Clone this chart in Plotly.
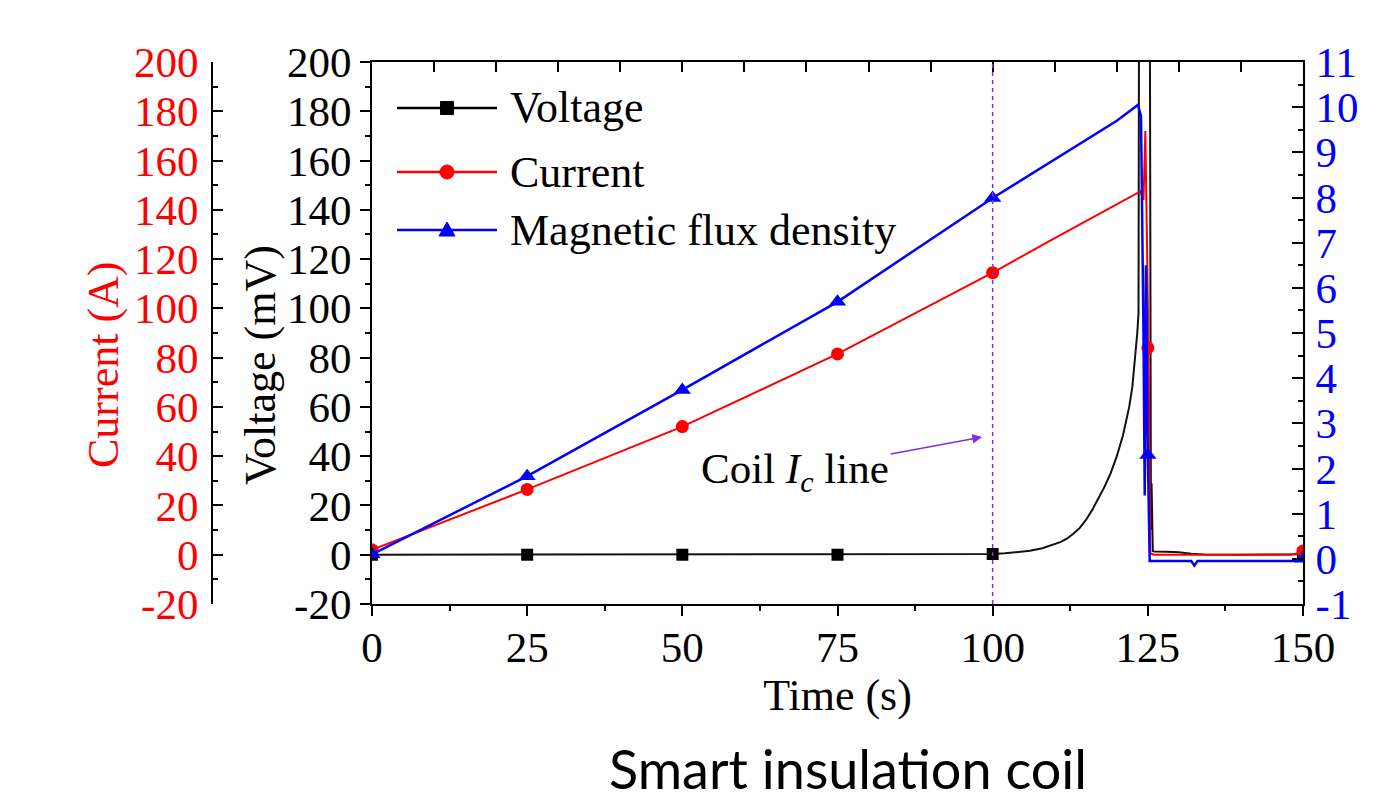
import plotly.graph_objects as go

# ---------------- data ----------------
time_v = [0, 10, 20, 30, 40, 50, 60, 70, 80, 90, 100, 102, 104, 106, 108, 110,
          111, 112, 113, 114, 115, 116, 117, 118, 119, 120, 121, 122, 122.5,
          123, 123.3, 123.5, 123.6, 124.5, 125.3, 125.5, 125.6, 125.8, 126,
          128, 130, 132, 134, 140, 145, 149, 150]
voltage = [0, 0, 0, 0, 0, 0, 0, 0, 0, 0.1, 0.3, 0.6, 1.0, 1.6, 2.6, 4.2,
           5.2, 6.6, 8.5, 10.8, 14, 18, 22.5, 27.5, 33, 40, 48.5, 60, 68,
           80, 90, 98, 250, 250, 250, 10, 29, 1.5, 1.3,
           1.2, 1.0, 0.4, 0.1, 0, 0, 0.2, 1.0]

time_i = [0, 25, 50, 60, 70, 75, 80, 90, 100, 110, 120, 123.8, 124.3, 124.6,
          124.9, 125.1, 125.4, 126, 130, 140, 148, 149, 150]
current = [2, 26.5, 52, 63.8, 75.6, 81.5, 88.1, 101.3, 114.5, 128.5, 142.5,
           147.5, 144, 172, 120, 84, 0.5, 0, 0, 0, 0, 0.5, 2.5]

time_b = [0, 25, 50, 75, 100, 110, 120, 123.4, 123.9, 124.3, 124.5, 124.7,
          125.0, 125.3, 128, 132, 132.5, 133, 140, 149, 150]
flux = [0.1, 1.83, 3.74, 5.69, 7.99, 8.85, 9.7, 10.05, 9.8, 5.0, 1.4, 6.5,
        2.3, -0.05, -0.05, -0.05, -0.15, -0.05, -0.05, -0.05, 0.1]

marker_time = [0, 25, 50, 75, 100, 125, 150]
voltage_marker_time = [0, 25, 50, 75, 100, 150]
voltage_markers = [0, 0, 0, 0, 0.3, 0.5]
current_markers = [2, 26.5, 52, 81.5, 114.5, 84, 1.5]
flux_markers = [0.1, 1.83, 3.74, 5.69, 7.99, 2.3, 0.0]

series_names = ["Voltage", "Current", "Magnetic flux density"]

y_ticks = list(range(-20, 201, 20))
y_ticktext = [str(v) for v in y_ticks]          # plain hyphen minus
x_ticks = [0, 25, 50, 75, 100, 125, 150]
b_ticks = list(range(-1, 12))
b_ticktext = [str(v) for v in b_ticks]

# ---------------- styling ----------------
W, H = 1397, 804
OFF = 8                      # page offset of the figure (body margin)
PLOT_TOP, PLOT_BOT = 62, 604  # page pixel rows of the plot frame


def px(xpage):
    return (xpage - OFF) / W


def py(ypage):
    return (PLOT_BOT - ypage) / (PLOT_BOT - PLOT_TOP)


SERIF = "Liberation Serif"
FS = 43
TFS = 44
BLACK, RED, BLUE, PURPLE = "#000000", "#FF0000", "#0000FF", "#8A2BE2"

fig = go.Figure()

# voltage
fig.add_trace(go.Scatter(x=time_v, y=voltage, mode="lines", xaxis="x", yaxis="y",
                         line=dict(color="#111111", width=2), showlegend=False,
                         hoverinfo="skip"))
fig.add_trace(go.Scatter(x=voltage_marker_time, y=voltage_markers, mode="markers",
                         xaxis="x", yaxis="y", showlegend=False,
                         marker=dict(symbol="square", size=12, color=BLACK)))
# current
fig.add_trace(go.Scatter(x=time_i, y=current, mode="lines", xaxis="x", yaxis="y2",
                         line=dict(color=RED, width=2), showlegend=False,
                         hoverinfo="skip"))
fig.add_trace(go.Scatter(x=marker_time, y=current_markers, mode="markers",
                         xaxis="x", yaxis="y2", showlegend=False,
                         marker=dict(symbol="circle", size=13, color=RED)))
# flux
fig.add_trace(go.Scatter(x=time_b, y=flux, mode="lines", xaxis="x", yaxis="y3",
                         line=dict(color=BLUE, width=2.5), showlegend=False,
                         hoverinfo="skip"))
fig.add_trace(go.Scatter(x=marker_time, y=flux_markers, mode="markers",
                         xaxis="x", yaxis="y3", showlegend=False,
                         marker=dict(symbol="triangle-up", size=15, color=BLUE)))

# top mirror axis carrier
fig.add_trace(go.Scatter(x=[None], y=[None], xaxis="x2", yaxis="y",
                         showlegend=False, hoverinfo="skip"))

axis_common = dict(showgrid=False, zeroline=False, showline=True, linecolor=BLACK,
                   linewidth=2, tickwidth=2, tickcolor=BLACK, automargin=False)

# ---------------- legend (drawn as key glyphs + text) ----------------
legend_rows = [108, 172, 230]
legend_colors = [BLACK, RED, BLUE]
shapes = [dict(type="line", xref="x", yref="paper", x0=100, x1=100, y0=0, y1=1,
               line=dict(color=PURPLE, width=1.5, dash="4px,4px"))]
annotations = []
for name, color, row, kind in zip(series_names, legend_colors, legend_rows,
                                  ["square", "circle", "triangle"]):
    shapes.append(dict(type="line", xref="paper", yref="paper", x0=px(397), x1=px(497),
                       y0=py(row), y1=py(row), line=dict(color=color, width=2.5)))
    common = dict(xref="paper", yref="paper", xsizemode="pixel", ysizemode="pixel",
                  xanchor=px(447), yanchor=py(row), fillcolor=color,
                  line=dict(color=color, width=1))
    if kind == "square":
        shapes.append(dict(type="rect", x0=-6.5, x1=6.5, y0=-6.5, y1=6.5, **common))
    elif kind == "circle":
        shapes.append(dict(type="circle", x0=-7, x1=7, y0=-7, y1=7, **common))
    else:
        shapes.append(dict(type="path", path="M-8,-6 L8,-6 L0,8 Z", **common))
    annotations.append(dict(x=px(508), y=py(row), xref="paper", yref="paper",
                            text=name, showarrow=False, xanchor="left", yanchor="middle",
                            font=dict(family=SERIF, size=44, color=BLACK)))

annotations += [
    # axis titles
    dict(x=px(260), y=py(365), xref="paper", yref="paper", text="Voltage (mV)",
         textangle=-90, showarrow=False, xanchor="center", yanchor="middle",
         font=dict(family=SERIF, size=TFS, color=BLACK)),
    dict(x=px(103), y=py(365), xref="paper", yref="paper", text="Current (A)",
         textangle=-90, showarrow=False, xanchor="center", yanchor="middle",
         font=dict(family=SERIF, size=TFS, color=RED)),
    dict(x=98.3, y=47.8, xref="x", yref="y", ax=68.2, ay=33.6, axref="x", ayref="y",
         text="Coil <i>I</i><sub><i>c</i></sub> line", showarrow=True,
         arrowhead=2, arrowsize=1.3, arrowwidth=1.5, arrowcolor=PURPLE,
         font=dict(family=SERIF, size=FS, color=BLACK)),
    dict(x=px(848), y=py(768), xref="paper", yref="paper",
         text="Smart insulation coil", showarrow=False, xanchor="center",
         yanchor="middle", font=dict(family="Lato", size=54, color=BLACK)),
]

fig.update_layout(
    width=W, height=H,
    margin=dict(l=0, r=0, t=PLOT_TOP - OFF, b=H - (PLOT_BOT - OFF)),
    plot_bgcolor="white", paper_bgcolor="white",
    showlegend=False,
    xaxis=dict(domain=[px(372), px(1303)], range=[0, 150], tickvals=x_ticks,
               ticks="outside", ticklen=10, anchor="y", ticklabelstandoff=-6,
               minor=dict(dtick=12.5, tick0=0, ticklen=5, tickwidth=2,
                          ticks="outside", tickcolor=BLACK),
               tickfont=dict(family=SERIF, size=FS, color=BLACK),
               title=dict(text="Time (s)", font=dict(family=SERIF, size=TFS, color=BLACK),
                          standoff=2),
               **axis_common),
    xaxis2=dict(overlaying="x", side="top", anchor="y", range=[0, 150], dtick=10,
                tick0=0, ticks="inside", ticklen=10, showticklabels=False,
                **axis_common),
    yaxis=dict(domain=[0, 1], range=[-20, 200], tickvals=y_ticks, ticktext=y_ticktext,
               ticks="outside", ticklen=10, anchor="x",
               minor=dict(dtick=10, tick0=0, ticklen=5, tickwidth=2,
                          ticks="outside", tickcolor=BLACK),
               tickfont=dict(family=SERIF, size=FS, color=BLACK),
               **axis_common),
    yaxis2=dict(overlaying="y", anchor="free", position=px(212), side="left",
                range=[-20, 200], tickvals=y_ticks, ticktext=y_ticktext,
                ticks="inside", ticklen=10, ticklabelstandoff=4,
                minor=dict(dtick=10, tick0=0, ticklen=5, tickwidth=2,
                           ticks="inside", tickcolor=BLACK),
                tickfont=dict(family=SERIF, size=FS, color=RED),
                **axis_common),
    yaxis3=dict(overlaying="y", anchor="x", side="right", range=[-1, 11],
                tickvals=b_ticks, ticktext=b_ticktext, ticks="inside", ticklen=11,
                ticklabelstandoff=2,
                minor=dict(dtick=0.5, tick0=0, ticklen=5, tickwidth=2,
                           ticks="inside", tickcolor=BLACK),
                tickfont=dict(family=SERIF, size=FS, color=BLUE),
                **axis_common),
    shapes=shapes,
    annotations=annotations,
)

fig.write_html("out.html")
